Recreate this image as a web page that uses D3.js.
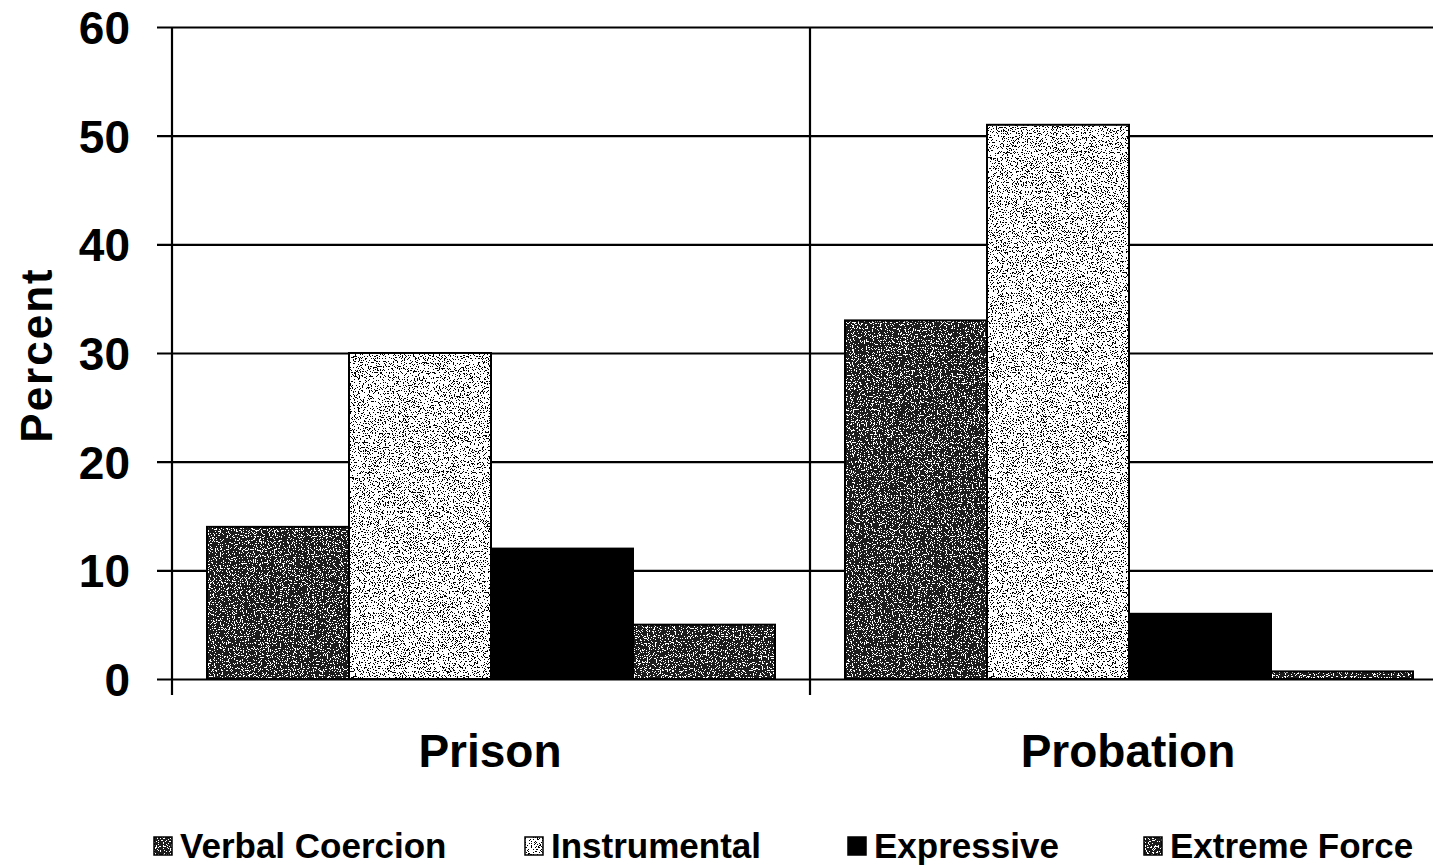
<!DOCTYPE html>
<html>
<head>
<meta charset="utf-8">
<script src="https://cdn.jsdelivr.net/npm/d3@7"></script>
<style>
  html, body { margin: 0; padding: 0; background: #fff; overflow: hidden; }
  text { font-family: "Liberation Sans", Arial, sans-serif; font-weight: bold; fill: #000; }
</style>
</head>
<body>
<div id="chart"></div>
<script>
// data
var categories = ["Prison", "Probation"];
var seriesNames = ["Verbal Coercion", "Instrumental", "Expressive", "Extreme Force"];
var verbalCoercion = [14, 33];
var instrumental = [30, 51];
var expressive = [12, 6];
var extremeForce = [5, 0.7];
var yTicks = [0, 10, 20, 30, 40, 50, 60];

var seriesValues = [verbalCoercion, instrumental, expressive, extremeForce];

var width = 1433,
    height = 867;

var plotLeft = 172,
    plotTop = 27,
    plotBottom = 679,
    groupW = 638;

var svg = d3.select("#chart").append("svg")
    .attr("width", width)
    .attr("height", height);

var defs = svg.append("defs");

// speckle filters (scanned stipple look)
function speckle(id, rgb, freq, table, seed) {
  var f = defs.append("filter")
      .attr("id", id)
      .attr("x", 0).attr("y", 0).attr("width", 1).attr("height", 1)
      .attr("color-interpolation-filters", "sRGB");
  f.append("feTurbulence")
      .attr("type", "fractalNoise")
      .attr("baseFrequency", freq)
      .attr("numOctaves", 2)
      .attr("seed", seed)
      .attr("result", "noise");
  f.append("feColorMatrix")
      .attr("in", "noise")
      .attr("type", "matrix")
      .attr("values", "0 0 0 0 " + rgb + "  0 0 0 0 " + rgb + "  0 0 0 0 " + rgb + "  1 0 0 0 0");
  f.append("feComponentTransfer")
    .append("feFuncA")
      .attr("type", "discrete")
      .attr("tableValues", table);
}
speckle("specWhite", 1, 0.85, "0 0 0 0 0 0 1 1 1 1", 4);
speckle("specBlack", 0, 0.8, "0 0 0 0 0 0 1 1 1 1", 7);
speckle("specWhite2", 1, 0.85, "0 0 0 0 0 0 1 1 1 1", 11);

var fills = ["#1c1c1c", "#ffffff", "#000000", "#1c1c1c"];
var specks = ["specWhite", "specBlack", null, "specWhite2"];

var x0 = d3.scaleBand()
    .domain(categories)
    .range([plotLeft, plotLeft + groupW * categories.length]);

var x1 = d3.scaleBand()
    .domain(seriesNames)
    .range([35, groupW - 35]);

var y = d3.scaleLinear()
    .domain([0, 60])
    .range([plotBottom, plotTop]);

// grid + y axis labels
var yAxis = svg.append("g")
    .attr("transform", "translate(" + plotLeft + ",0)")
    .call(d3.axisLeft(y)
      .tickValues(yTicks)
      .tickSize(-(width - plotLeft))
      .tickPadding(42));
yAxis.select(".domain").remove();
yAxis.selectAll(".tick line")
    .attr("x1", -15)
    .attr("stroke", "#000")
    .attr("stroke-width", 2.2);
yAxis.selectAll(".tick text")
    .style("font-size", "46px")
    .style("font-family", "'Liberation Sans', Arial, sans-serif")
    .style("font-weight", "bold")
    .attr("dy", "0.36em");

// bars
var groups = svg.selectAll(".grp")
    .data(categories)
  .enter().append("g")
    .attr("class", "grp")
    .attr("transform", function(d) { return "translate(" + x0(d) + ",0)"; });

var bars = groups.selectAll(".bar")
    .data(function(d, i) {
      return seriesNames.map(function(s, j) { return { s: s, j: j, v: seriesValues[j][i] }; });
    })
  .enter().append("g")
    .attr("class", "bar");

bars.append("rect")
    .attr("x", function(d) { return x1(d.s); })
    .attr("y", function(d) { return y(d.v); })
    .attr("width", x1.bandwidth())
    .attr("height", function(d) { return plotBottom - y(d.v); })
    .attr("fill", function(d) { return fills[d.j]; });

bars.filter(function(d) { return specks[d.j]; })
  .append("rect")
    .attr("x", function(d) { return x1(d.s); })
    .attr("y", function(d) { return y(d.v); })
    .attr("width", x1.bandwidth())
    .attr("height", function(d) { return plotBottom - y(d.v); })
    .attr("fill", "#000")
    .attr("filter", function(d) { return "url(#" + specks[d.j] + ")"; });

bars.append("rect")
    .attr("x", function(d) { return x1(d.s); })
    .attr("y", function(d) { return y(d.v); })
    .attr("width", x1.bandwidth())
    .attr("height", function(d) { return plotBottom - y(d.v); })
    .attr("fill", "none")
    .attr("stroke", "#000")
    .attr("stroke-width", 2);

// vertical axis line and category dividers
svg.selectAll(".divider")
    .data(categories)
  .enter().append("line")
    .attr("class", "divider")
    .attr("x1", function(d) { return x0(d); })
    .attr("x2", function(d) { return x0(d); })
    .attr("y1", plotTop)
    .attr("y2", plotBottom + 16)
    .attr("stroke", "#000")
    .attr("stroke-width", 2.2);

// category labels
svg.selectAll(".cat")
    .data(categories)
  .enter().append("text")
    .attr("class", "cat")
    .attr("x", function(d) { return x0(d) + x0.bandwidth() / 2 - 1; })
    .attr("y", 767)
    .attr("text-anchor", "middle")
    .style("font-size", "46px")
    .text(function(d) { return d; });

// y title
svg.append("text")
    .attr("transform", "translate(52,355) rotate(-90)")
    .attr("text-anchor", "middle")
    .style("font-size", "44px")
    .style("letter-spacing", "2px")
    .text("Percent");

// legend
var legendX = [154, 525, 848, 1144];
var legend = svg.selectAll(".leg")
    .data(seriesNames)
  .enter().append("g")
    .attr("class", "leg")
    .attr("transform", function(d, i) { return "translate(" + legendX[i] + ",837)"; });

legend.append("rect")
    .attr("width", 18).attr("height", 18)
    .attr("fill", function(d, i) { return fills[i]; });
legend.filter(function(d, i) { return specks[i]; })
  .append("rect")
    .attr("width", 18).attr("height", 18)
    .attr("fill", "#000")
    .attr("filter", function(d) { return "url(#" + specks[seriesNames.indexOf(d)] + ")"; });
legend.append("rect")
    .attr("width", 18).attr("height", 18)
    .attr("fill", "none")
    .attr("stroke", "#000")
    .attr("stroke-width", 1.5);

legend.append("text")
    .attr("x", 26)
    .attr("y", 21)
    .style("font-size", "35px")
    .text(function(d) { return d; });
</script>
</body>
</html>
